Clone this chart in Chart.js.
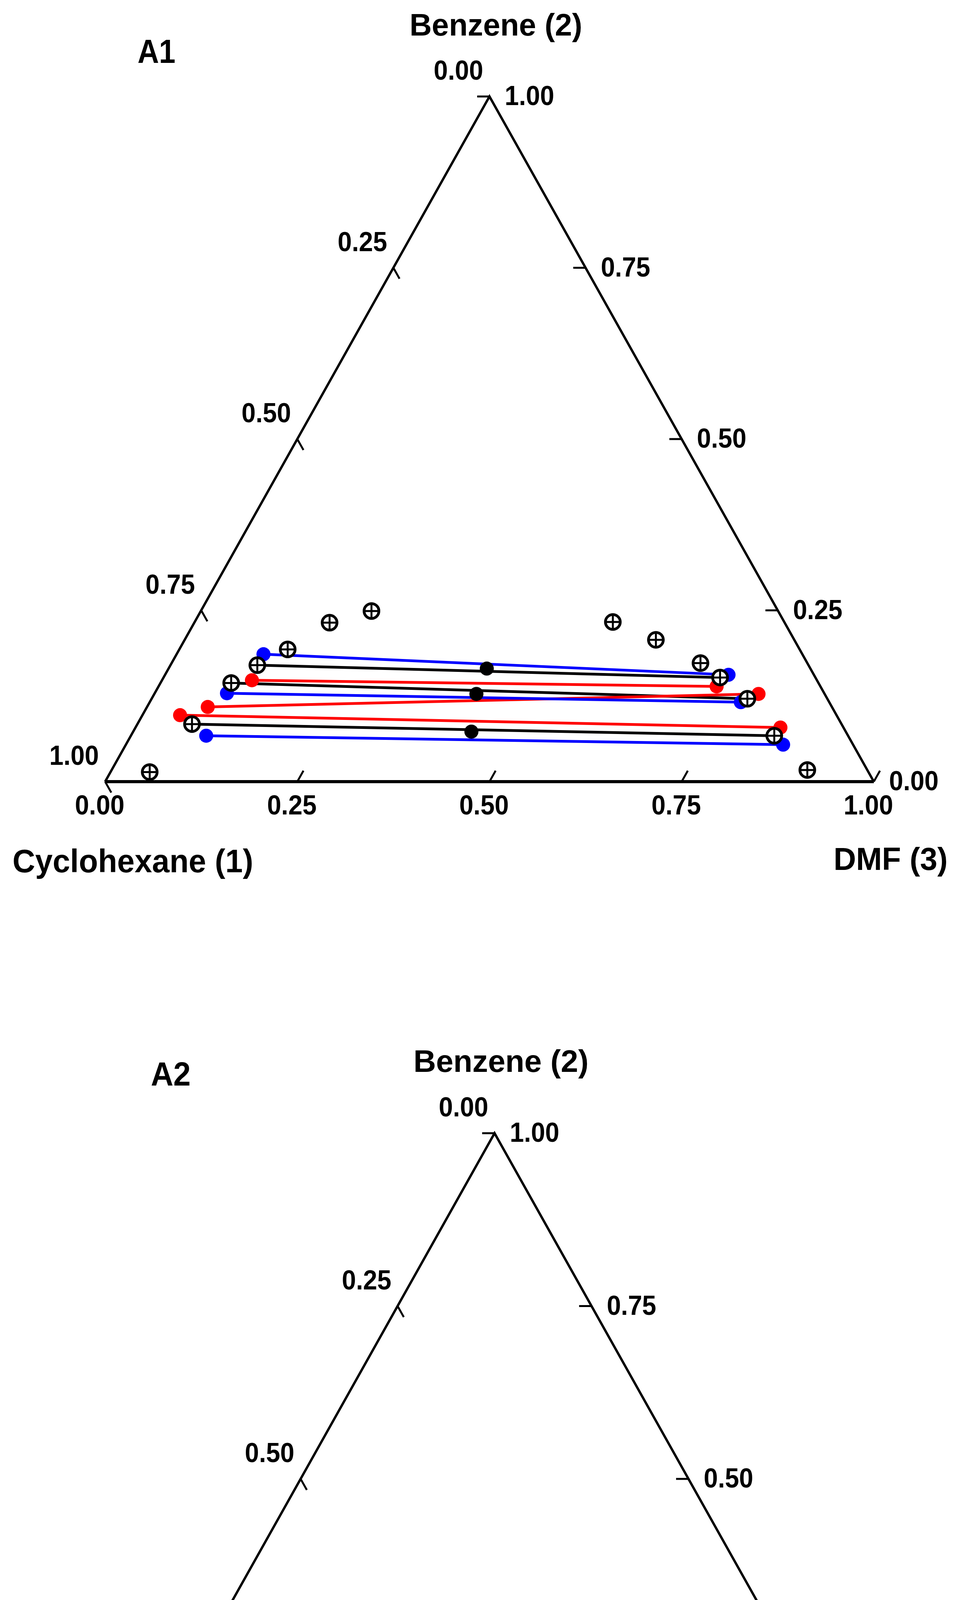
<!DOCTYPE html>
<html><head><meta charset="utf-8">
<script src="https://cdn.jsdelivr.net/npm/chart.js@4.4.1/dist/chart.umd.min.js"></script>
<style>
html,body{margin:0;padding:0;background:#fff;}
body{width:2477px;height:4948px;position:relative;overflow:hidden;}
.panel{position:absolute;left:0;width:2477px;height:2474px;}
canvas{display:block;}
</style></head><body>
<div class="panel" style="top:0"><canvas id="c1" width="2477" height="2474"></canvas></div>
<div class="panel" style="top:2474px"><canvas id="c2" width="2477" height="2474"></canvas></div>
<script>
// Compositions are [benzene x2, DMF x3] mole fractions (cyclohexane x1 = 1 - x2 - x3)
const TICK_VALUES = [0, 0.25, 0.5, 0.75, 1];
const TICK_LABELS = ['0.00', '0.25', '0.50', '0.75', '1.00'];
const COMPONENTS = ['Cyclohexane (1)', 'Benzene (2)', 'DMF (3)'];

// ---- Panel A1 ----
const A1_BINODAL = [[0.014,0.051],[0.084,0.071],[0.144,0.092],[0.170,0.113],[0.193,0.141],[0.232,0.176],[0.249,0.222],
                    [0.233,0.544],[0.207,0.613],[0.173,0.688],[0.152,0.724],[0.121,0.775],[0.067,0.837],[0.017,0.905]];
const A1_EXP_LEFT   = [[0.170,0.113],[0.144,0.092],[0.084,0.071]];
const A1_EXP_RIGHT  = [[0.152,0.724],[0.121,0.775],[0.067,0.837]];
const A1_FEED       = [[0.165,0.414],[0.128,0.419],[0.073,0.440]];
const A1_BLUE_LEFT  = [[0.186,0.113],[0.129,0.094],[0.067,0.098]];
const A1_BLUE_RIGHT = [[0.156,0.733],[0.116,0.769],[0.054,0.855]];
const A1_RED_LEFT   = [[0.148,0.117],[0.109,0.079],[0.097,0.049]];
const A1_RED_RIGHT  = [[0.139,0.726],[0.128,0.786],[0.079,0.839]];

// ---- Panel A2 ----
const A2_BINODAL = [[0.035,0.124],[0.076,0.126],[0.136,0.135],[0.195,0.200],[0.214,0.242],[0.227,0.319],
                    [0.233,0.553],[0.195,0.650],[0.128,0.750],[0.055,0.830]];
const A2_EXP_LEFT   = [[0.220,0.334],[0.167,0.155],[0.101,0.122]];
const A2_EXP_RIGHT  = [[0.212,0.573],[0.159,0.701],[0.086,0.798]];
const A2_FEED       = [[0.217,0.429],[0.163,0.433],[0.092,0.457]];
const A2_BLUE_LEFT  = [[0.227,0.334],[0.159,0.159],[0.118,0.131]];
const A2_BLUE_RIGHT = [[0.225,0.576],[0.153,0.712],[0.076,0.801]];
const A2_RED_LEFT   = [[0.210,0.342],[0.180,0.153],[0.103,0.123]];
const A2_RED_RIGHT  = [[0.207,0.582],[0.176,0.697],[0.115,0.783]];

const TICK_LEN = 0.016;
const FONT = '"Liberation Sans", Arial, Helvetica, sans-serif';

// ternary -> cartesian (triangle x in [0,1], y in [0,1])
function pt(c) { return { x: c[1] + c[0] / 2, y: c[0] }; }

function lineDS(points, color, width, order) {
  return { data: points.map(pt), showLine: true, borderColor: color, borderWidth: width,
           pointRadius: 0, pointHoverRadius: 0, fill: false, clip: false, order: order, tension: 0 };
}
function dotDS(points, color, r, order) {
  return { data: points.map(pt), showLine: false, pointStyle: 'circle', pointRadius: r, pointHoverRadius: r,
           backgroundColor: color, borderColor: color, borderWidth: 0, clip: false, order: order };
}

function buildDatasets(P) {
  const ds = [];
  // binodal experimental: circle with plus
  ds.push({ data: P.binodal.map(pt), showLine: false, pointStyle: 'cross', pointRadius: 19, pointHoverRadius: 19,
            borderColor: '#000', borderWidth: 5, clip: false, order: 0 });
  ds.push({ data: P.binodal.map(pt), showLine: false, pointStyle: 'circle', pointRadius: 19, pointHoverRadius: 19,
            borderColor: '#000', backgroundColor: '#fff', borderWidth: 7, clip: false, order: 1 });
  // feeds
  ds.push(dotDS(P.feed, '#000', 18, 2));
  // model end points
  ds.push(dotDS(P.blueL.concat(P.blueR), '#0000ff', 18, 3));
  ds.push(dotDS(P.redL.concat(P.redR), '#ff0000', 18, 3));
  // tie lines
  for (let i = 0; i < P.expL.length; i++) {
    ds.push(lineDS([P.blueL[i], P.blueR[i]], '#0000ff', 7, 4));
    ds.push(lineDS([P.redL[i], P.redR[i]], '#ff0000', 7, 4));
    ds.push(lineDS([P.expL[i], P.expR[i]], '#000000', 7, 4));
  }
  // triangle frame
  ds.push(lineDS([[0, 0], [0, 1]], '#000', 8, 5));          // bottom edge (x1 vertex -> x3 vertex)
  ds.push(lineDS([[0, 1], [1, 0], [0, 0]], '#000', 6, 5));  // right & left edges
  // ticks
  TICK_VALUES.forEach(v => {
    ds.push(lineDS([[0, v], [TICK_LEN, v]], '#000', 5, 5));                       // bottom (DMF)
    ds.push(lineDS([[1 - v, 0], [1 - v - TICK_LEN, TICK_LEN]], '#000', 5, 5));    // left (cyclohexane)
    ds.push(lineDS([[v, 1 - v], [v, 1 - v - TICK_LEN]], '#000', 5, 5));           // right (benzene)
  });
  return ds;
}

function drawText(ctx, text, x, baseline, size, align, scaleX, width) {
  ctx.save();
  ctx.font = 'bold ' + size + 'px ' + FONT;
  ctx.fillStyle = '#000';
  ctx.textBaseline = 'alphabetic';
  let s = scaleX || 1;
  if (width) s = width / ctx.measureText(text).width;
  ctx.translate(x, baseline);
  ctx.scale(s, 1);
  ctx.textAlign = align;
  ctx.fillText(text, 0, 0);
  ctx.restore();
}

function textPlugin(P) {
  return {
    id: 'ternaryText',
    afterDraw(chart) {
      const ctx = chart.ctx, xs = chart.scales.x, ys = chart.scales.y;
      const px = c => { const p = pt(c); return { x: xs.getPixelForValue(p.x), y: ys.getPixelForValue(p.y) }; };
      TICK_VALUES.forEach((v, i) => {
        const lab = TICK_LABELS[i];
        const b = px([0, v]);
        drawText(ctx, lab, b.x - 14, b.y + 84, 70, 'center', 0.93);
        const l = px([1 - v, 0]);
        drawText(ctx, lab, l.x - 16, l.y - 43, 70, 'right', 0.93);
        const r = px([v, 1 - v]);
        drawText(ctx, lab, r.x + 39, r.y + 22, 70, 'left', 0.93);
      });
      const T = P.text;
      drawText(ctx, P.name, T.name[0], T.name[1], 86, 'left', 0, T.name[2]);
      drawText(ctx, COMPONENTS[1], T.top[0], T.top[1], 80, 'left', 0, T.top[2]);
      drawText(ctx, COMPONENTS[0], T.bl[0], T.bl[1], 84, 'left', 0, T.bl[2]);
      drawText(ctx, COMPONENTS[2], T.br[0], T.br[1], 82, 'left', 0, T.br[2]);
    }
  };
}

function makeChart(id, P) {
  return new Chart(document.getElementById(id), {
    type: 'scatter',
    data: { datasets: buildDatasets(P) },
    options: {
      responsive: false, devicePixelRatio: 1, animation: false, events: [],
      layout: { padding: P.padding },
      plugins: { legend: { display: false }, tooltip: { enabled: false } },
      scales: {
        x: { type: 'linear', min: 0, max: 1, display: false },
        y: { type: 'linear', min: 0, max: 1, display: false }
      }
    },
    plugins: [textPlugin(P)]
  });
}

makeChart('c1', {
  name: 'A1',
  binodal: A1_BINODAL, expL: A1_EXP_LEFT, expR: A1_EXP_RIGHT, feed: A1_FEED,
  blueL: A1_BLUE_LEFT, blueR: A1_BLUE_RIGHT, redL: A1_RED_LEFT, redR: A1_RED_RIGHT,
  padding: { left: 269, right: 241, top: 247, bottom: 473 },
  text: { name: [352, 161, 97], top: [1048, 91, 442], bl: [32, 2233, 616], br: [2133, 2227, 292] }
});
makeChart('c2', {
  name: 'A2',
  binodal: A2_BINODAL, expL: A2_EXP_LEFT, expR: A2_EXP_RIGHT, feed: A2_FEED,
  blueL: A2_BLUE_LEFT, blueR: A2_BLUE_RIGHT, redL: A2_RED_LEFT, redR: A2_RED_RIGHT,
  padding: { left: 273, right: 219, top: 427, bottom: 277 },
  text: { name: [386, 305, 102], top: [1058, 270, 448], bl: [32, 2431, 624], br: [2157, 2425, 292] }
});
</script>
</body></html>
